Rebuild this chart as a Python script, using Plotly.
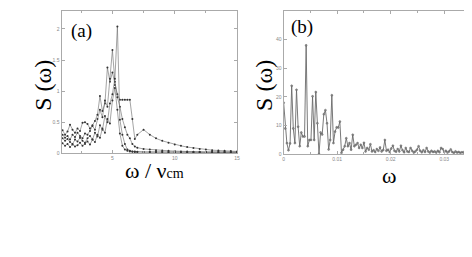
import plotly.graph_objects as go

# panel (a): spectra vs omega / nu_cm
x_a = [1.0, 1.2, 1.4, 1.6, 1.8, 2.0, 2.2, 2.4, 2.6, 2.8, 3.0, 3.2, 3.4, 3.6, 3.8,
       4.0, 4.2, 4.4, 4.6, 4.8, 5.0, 5.2, 5.4, 5.6, 5.8, 6.0, 6.2, 6.4, 6.6, 6.8, 7.0,
       7.5, 8.0, 8.5, 9.0, 9.5, 10.0, 10.5, 11.0, 11.5, 12.0, 12.5, 13.0, 13.5, 14.0, 14.5, 15.0]

s_a1 = [0.37, 0.30, 0.35, 0.46, 0.38, 0.33, 0.40, 0.36, 0.49, 0.50, 0.47, 0.40, 0.45, 0.52, 0.62,
        0.92, 0.68, 0.80, 1.38, 1.15, 1.30, 1.10, 0.95, 0.86, 0.86, 0.86, 0.86, 0.86, 0.55, 0.23, 0.30,
        0.38, 0.30, 0.24, 0.20, 0.17, 0.14, 0.12, 0.10, 0.085, 0.07, 0.06, 0.05, 0.045, 0.04, 0.035, 0.03]
s_a2 = [0.30, 0.25, 0.28, 0.22, 0.30, 0.26, 0.33, 0.28, 0.24, 0.32, 0.30, 0.36, 0.44, 0.38, 0.55,
        0.70, 0.58, 0.85, 0.75, 1.20, 1.66, 1.15, 0.90, 0.75, 0.55, 0.42, 0.30, 0.24, 0.15, 0.11, 0.09,
        0.07, 0.06, 0.05, 0.045, 0.04, 0.035, 0.03, 0.03, 0.025, 0.025, 0.02, 0.02, 0.02, 0.02, 0.02, 0.02]
s_a3 = [0.24, 0.20, 0.23, 0.18, 0.15, 0.22, 0.19, 0.25, 0.20, 0.17, 0.24, 0.28, 0.22, 0.33, 0.27,
        0.45, 0.38, 0.60, 0.50, 0.80, 0.95, 1.20, 2.04, 0.54, 0.30, 0.15, 0.06, 0.04, 0.03, 0.03, 0.025,
        0.02, 0.02, 0.02, 0.02, 0.02, 0.015, 0.015, 0.015, 0.015, 0.015, 0.015, 0.015, 0.015, 0.015, 0.015, 0.015]
s_a4 = [0.16, 0.12, 0.15, 0.10, 0.14, 0.11, 0.13, 0.17, 0.12, 0.15, 0.19, 0.14, 0.22, 0.18, 0.30,
        0.25, 0.40, 0.33, 0.55, 0.48, 0.85, 1.05, 0.70, 0.32, 0.12, 0.06, 0.04, 0.03, 0.025, 0.02, 0.02,
        0.02, 0.02, 0.02, 0.02, 0.015, 0.015, 0.015, 0.015, 0.015, 0.015, 0.015, 0.015, 0.015, 0.015, 0.015, 0.015]

# panel (b): spectrum vs omega, sampled every 0.0003 from 0
b_x0 = 0.0
b_dx = 0.0003
s_b = [18.0, 9.0, 3.9, 1.4, 3.8, 23.9, 9.0, 3.9, 22.5, 9.6, 2.8, 7.6, 6.2, 6.2, 38.0,
       2.8, 5.0, 5.0, 20.2, 5.0, 21.7, 10.8, 0.1, 7.6, 6.9, 14.0, 15.4, 10.8, 1.7, 5.0,
       20.6, 3.9, 7.9, 9.4, 9.3, 11.4, 0.5, 1.6, 2.8, 5.6, 2.8, 3.9, 1.6, 6.8, 2.8,
       3.3, 3.9, 2.2, 3.3, 2.2, 4.0, 1.0, 2.2, 1.6, 3.5, 1.0, 1.4, 0.8, 1.8, 1.2,
       2.4, 1.0, 1.5, 5.0, 1.2, 1.6, 0.8, 2.0, 3.0, 1.2, 0.9, 1.8, 1.0, 3.0, 1.4,
       0.7, 2.2, 1.0, 0.8, 2.2, 1.2, 0.6, 1.0, 1.6, 2.8, 1.2, 0.7, 1.4, 0.8, 2.2,
       1.0, 0.6, 1.2, 0.8, 1.0, 0.6, 1.2, 0.7, 2.2, 1.8, 0.8, 1.2, 0.6, 1.0, 1.7,
       0.8, 0.5, 1.0, 0.6, 0.8, 0.5, 0.7, 0.6, 1.2, 1.7, 0.8, 0.6]

W, H = 472, 257
serif = "Liberation Serif, Times New Roman, serif"

fig = go.Figure()

for s in [s_a1, s_a2, s_a3, s_a4]:
    fig.add_trace(
        go.Scatter(
            x=x_a, y=s, mode="lines+markers",
            line=dict(color="#666666", width=0.6),
            marker=dict(color="#333333", size=2),
            xaxis="x", yaxis="y", showlegend=False,
        )
    )

fig.add_trace(
    go.Scatter(
        x0=b_x0, dx=b_dx, y=s_b, mode="lines+markers",
        line=dict(color="#6a6a6a", width=0.9),
        marker=dict(color="#888888", size=2, line=dict(color="#555555", width=0.4)),
        xaxis="x2", yaxis="y2", showlegend=False,
    )
)

axis_common = dict(
    showgrid=False, zeroline=False, showline=True, linecolor="#aaaaaa", linewidth=1,
    mirror="ticks", ticks="inside", ticklen=3, tickcolor="#aaaaaa",
    tickfont=dict(size=5, color="#888888", family="Liberation Sans"),
)

fig.update_layout(
    width=W, height=H,
    margin=dict(l=0, r=0, t=0, b=0),
    paper_bgcolor="white", plot_bgcolor="white",
    xaxis=dict(domain=[53 / W, 230 / W], range=[0.92, 15], anchor="y",
               tickvals=[5, 10, 15],
               minor=dict(dtick=2.5, tick0=0, ticks="inside", ticklen=2, tickcolor="#aaaaaa"),
               **axis_common),
    yaxis=dict(domain=[1 - 147 / H, 1 - 3 / H], range=[0, 2.29], anchor="x",
               tickvals=[0, 0.5, 1, 1.5, 2], **axis_common),
    xaxis2=dict(domain=[277 / W, 466 / W], range=[0, 0.035], anchor="y2",
                tickvals=[0, 0.01, 0.02, 0.03],
                minor=dict(dtick=0.005, tick0=0, ticks="inside", ticklen=2, tickcolor="#aaaaaa"),
                **axis_common),
    yaxis2=dict(domain=[1 - 148 / H, 1 - 3 / H], range=[0, 50], anchor="x2",
                tickvals=[0, 10, 20, 30, 40, 50], **axis_common),
)

annots = [
    dict(text="(a)", x=73 / W, y=1 - 23 / H, size=19, angle=0),
    dict(text="(b)", x=296 / W, y=1 - 19 / H, size=19, angle=0),
    dict(text="S (ω)", x=34 / W, y=1 - 78 / H, size=24, angle=-90),
    dict(text="S (ω)", x=257 / W, y=1 - 78 / H, size=24, angle=-90),
    dict(text="ω / ν<span style='font-size:14px'>cm</span>", x=147 / W, y=1 - 164 / H, size=22, angle=0),
    dict(text="ω", x=383 / W, y=1 - 169 / H, size=22, angle=0),
]
for a in annots:
    fig.add_annotation(
        text=a["text"], x=a["x"], y=a["y"], xref="paper", yref="paper",
        xanchor="center", yanchor="middle", showarrow=False, textangle=a["angle"],
        font=dict(family=serif, size=a["size"], color="black"),
    )

fig.write_html("out.html")
